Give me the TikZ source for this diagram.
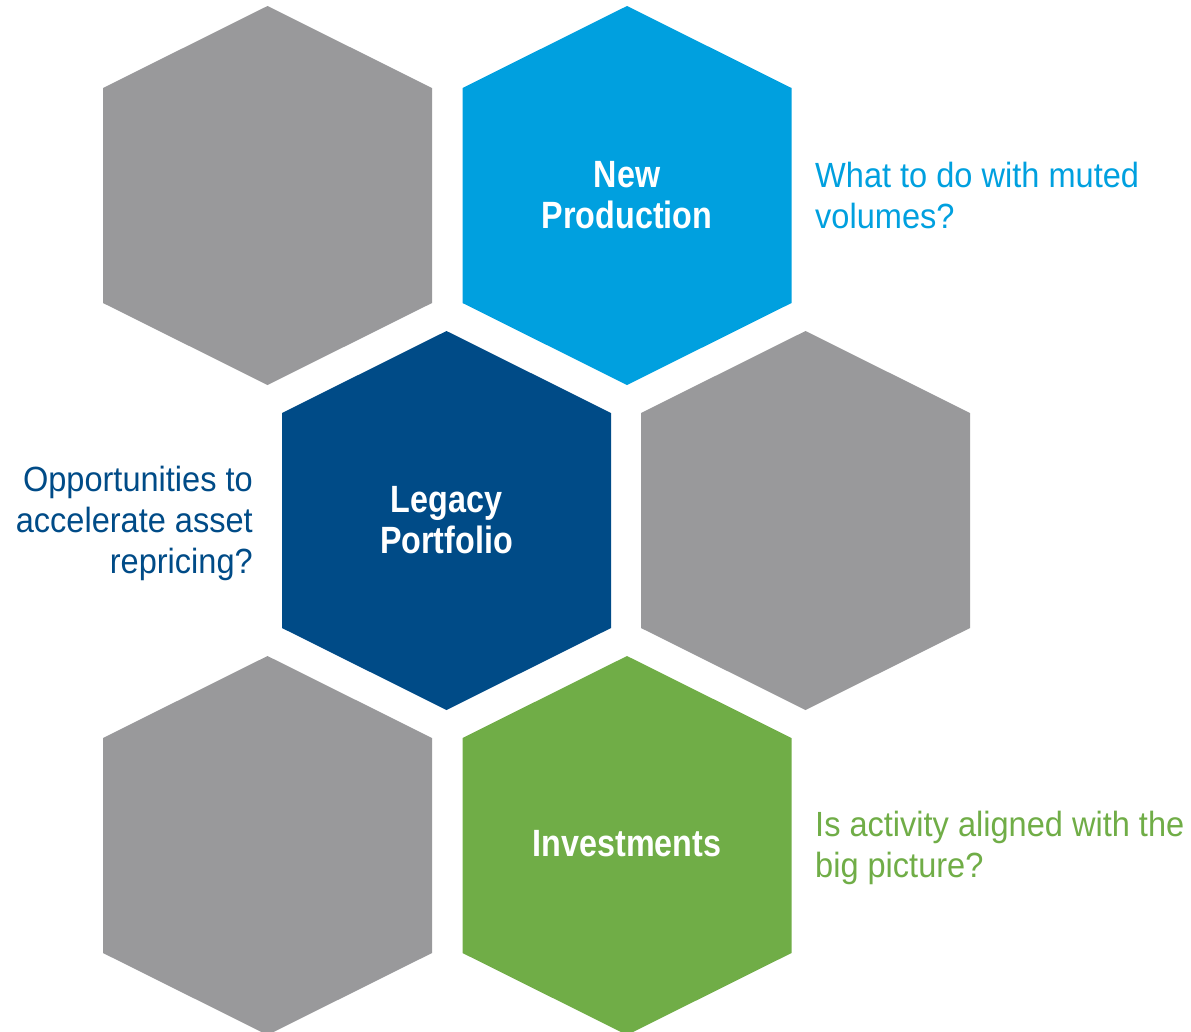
\documentclass[tikz,border=0pt]{standalone}
\usepackage{fontspec}
\setmainfont{Liberation Sans}
\newfontfamily\notefont[FakeStretch=0.93]{Liberation Sans}
\newfontfamily\hexfont[FakeStretch=0.85]{Liberation Sans}
\definecolor{hexgray}{HTML}{99999B}
\definecolor{hexblue}{HTML}{00A0DF}
\definecolor{hexnavy}{HTML}{004B87}
\definecolor{hexgreen}{HTML}{70AD47}
\tikzset{
  hexcell/.pic={
    \path[fill] (0,-189.5) -- (164.5,-107.5) -- (164.5,107.5) -- (0,189.5)
      -- (-164.5,107.5) -- (-164.5,-107.5) -- cycle;
  },
  hexlabel/.style={text=white, align=center, inner sep=0pt,
    font=\hexfont\bfseries\fontsize{38}{41}\selectfont},
  note/.style={inner sep=0pt, font=\notefont\fontsize{35}{41}\selectfont}
}
\begin{document}
\begin{tikzpicture}[x=1pt,y=-1pt]
\useasboundingbox (0,0) rectangle (1191,1031);
% honeycomb cells
\pic[fill=hexgray]  at (267.5,195.5) {hexcell};
\pic[fill=hexblue]  at (627,195.5)   {hexcell};
\pic[fill=hexnavy]  at (446.5,520.5) {hexcell};
\pic[fill=hexgray]  at (805.5,520.5) {hexcell};
\pic[fill=hexgray]  at (267.5,845.5) {hexcell};
\pic[fill=hexgreen] at (627,845.5)   {hexcell};
% cell titles
\node[hexlabel] (newprod) at (627,195.5) {New\\Production};
\node[hexlabel] (legacy)  at (446.5,520.5) {Legacy\\Portfolio};
\node[hexlabel] (invest)  at (627,844) {Investments};
% questions beside the cells (anchored at the baseline of the last line)
\node[note, text=hexblue, align=left, anchor=base west] (q1) at (815,228)
  {What to do with muted\\volumes?};
\node[note, text=hexnavy, align=right, anchor=base east] (q2) at (253,573)
  {Opportunities to\\accelerate asset\\repricing?};
\node[note, text=hexgreen, align=left, anchor=base west] (q3) at (815,877.5)
  {Is activity aligned with the\\big picture?};
\end{tikzpicture}
\end{document}
